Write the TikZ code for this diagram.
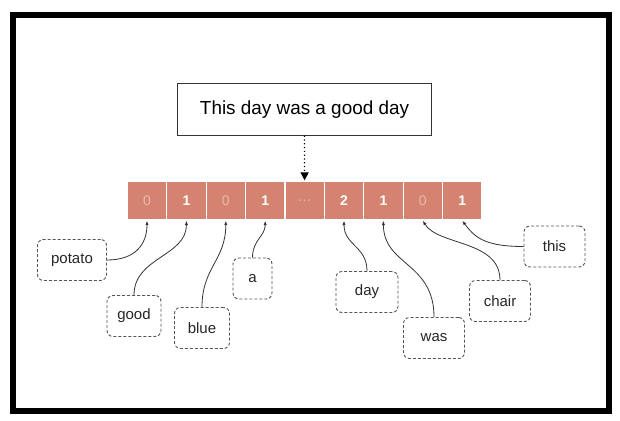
\documentclass[tikz,border=0pt]{standalone}
\usepackage{fontspec}
\setmainfont{Liberation Sans}
\usetikzlibrary{arrows.meta}
\definecolor{cellfill}{HTML}{D3836F}
\definecolor{zerotxt}{HTML}{EDB8AC}
\definecolor{linegray}{HTML}{333333}
\definecolor{dashgray}{HTML}{555555}
\tikzset{
  cell/.style={fill=cellfill, draw=white, line width=1.2pt, minimum width=39.4pt, minimum height=39pt, inner sep=0pt, font=\fontsize{14}{16}\selectfont},
  zero/.style={text=zerotxt},
  one/.style={text=white, font=\fontsize{14}{16}\selectfont\bfseries},
  wbox/.style={draw=dashgray, dash pattern=on 3pt off 2pt, line width=0.9pt, rounded corners=6pt, minimum height=41pt, inner sep=0pt, text=black!85, font=\fontsize{15}{17}\selectfont},
  conn/.style={draw=linegray, line width=0.8pt, -{Latex[length=4.5pt,width=3.2pt]}},
}
\begin{document}
\begin{tikzpicture}[x=1pt,y=-1pt]
\useasboundingbox (0,0) rectangle (620,420);
\draw[line width=6pt] (13,15) rectangle (609,411);
\node[draw=linegray, line width=1pt, minimum width=254.4pt, minimum height=51.7pt, inner sep=0pt, font=\fontsize{18.9}{21}\selectfont] (title) at (304.5,109.2) {This day was a good day};
\foreach \i/\t/\s in {0/0/zero,1/1/one,2/0/zero,3/1/one,4/{\ldots}/zero,5/2/one,6/1/one,7/0/zero,8/1/one}{
  \node[cell,\s] (c\i) at ({127.3+39.4*(\i+0.5)},200.5) {\t};
}
\node[wbox, minimum width=69pt] (potato) at (72,260) {potato};
\node[wbox, minimum width=54pt] (good) at (134,316) {good};
\node[wbox, minimum width=55pt] (blue) at (202,328) {blue};
\node[wbox, minimum width=39pt] (a) at (252.5,278.5) {a};
\node[wbox, minimum width=62pt] (day) at (367,292) {day};
\node[wbox, minimum width=61pt] (was) at (434,338) {was};
\node[wbox, minimum width=61pt] (chair) at (500,301) {chair};
\node[wbox, minimum width=61pt] (this) at (554.5,246.5) {this};
\draw[line width=1.2pt, dash pattern=on 1.2pt off 2.6pt, -{Triangle[length=8pt,width=8pt]}] (title.south) -- (c4.north);
\draw[conn] (potato.east) .. controls +(28,0) and +(0,24) .. (c0.south);
\draw[conn] (good.north) .. controls +(0,-38) and +(0,36) .. (c1.south);
\draw[conn] (blue.north) .. controls +(0,-40) and +(0,40) .. (c2.south);
\draw[conn] (a.north) .. controls +(0,-18) and +(0,16) .. (c3.south);
\draw[conn] (day.north) .. controls +(0,-25) and +(0,25) .. (c5.south);
\draw[conn] (was.north) .. controls +(0,-55) and +(0,45) .. (c6.south);
\draw[conn] (chair.north) .. controls +(0,-40) and +(15,25) .. (c7.south);
\draw[conn] (this.west) .. controls +(-40,0) and +(12,16) .. (c8.south);
\end{tikzpicture}
\end{document}
